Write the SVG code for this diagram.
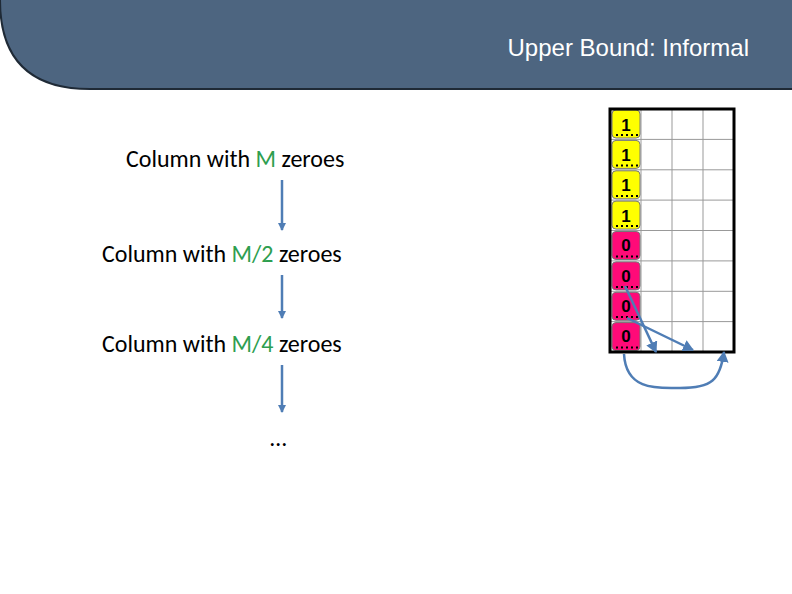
<svg xmlns="http://www.w3.org/2000/svg" width="792" height="594" viewBox="0 0 792 594">
<style>
.t{font-family:Calibri,"Carlito","Liberation Sans",sans-serif;font-size:24px;fill:#000}
.g{fill:#2e9e4f}
.c{font-family:"Liberation Sans",Arial,sans-serif;font-size:17px;font-weight:bold;fill:#000;text-anchor:middle}
.y{fill:#ffff00;stroke:#777;stroke-width:1}
.p{fill:#ff0a78;stroke:#777;stroke-width:1}
.gl{stroke:#999;stroke-width:1}
.a{stroke:#4f7db5;stroke-width:2.5;fill:none}
.d{stroke:#000;stroke-width:2;stroke-dasharray:2 3}
</style>
<defs>
<marker id="ar" markerWidth="8" markerHeight="8" refX="7" refY="4" orient="auto" markerUnits="userSpaceOnUse"><path d="M0,0 L8,4 L0,8 z" fill="#4f7db5"/></marker>
<marker id="ar2" markerWidth="12" markerHeight="12" refX="10" refY="6" orient="auto" markerUnits="userSpaceOnUse"><path d="M0,0 L11,6 L0,12 z" fill="#4f7db5"/></marker>
</defs>
<g id="header">
<path d="M0,0 H792 V89 H90 Q0,89 0,0 Z" fill="#4d6580"/>
<path d="M0,0 Q0,89 90,89 H792" fill="none" stroke="#1f2a36" stroke-width="2"/>
<text x="749" y="56" font-family="'Liberation Sans',Arial,sans-serif" font-size="24" fill="#fff" text-anchor="end">Upper Bound: Informal</text>
</g>
<g id="n1"><text class="t" x="126" y="167">Column with <tspan class="g">M</tspan> zeroes</text></g>
<g id="n2"><text class="t" x="102" y="262">Column with <tspan class="g">M/2</tspan> zeroes</text></g>
<g id="n3"><text class="t" x="102" y="352">Column with <tspan class="g">M/4</tspan> zeroes</text></g>
<g id="n4"><text class="t" x="270" y="446">…</text></g>
<g id="grid">
<rect x="610" y="109" width="124" height="243" fill="#fff"/>
<path class="gl" d="M641,109V352M672,109V352M703,109V352M610,139.4H734M610,169.8H734M610,200.1H734M610,230.5H734M610,260.9H734M610,291.3H734M610,321.6H734"/>
<g>
<rect class="y" x="612" y="110" width="28" height="28" rx="4"/>
<rect class="y" x="612" y="140.4" width="28" height="28" rx="4"/>
<rect class="y" x="612" y="170.8" width="28" height="28" rx="4"/>
<rect class="y" x="612" y="201.1" width="28" height="28" rx="4"/>
<rect class="p" x="612" y="231.5" width="28" height="28" rx="4"/>
<rect class="p" x="612" y="261.9" width="28" height="28" rx="4"/>
<rect class="p" x="612" y="292.3" width="28" height="28" rx="4"/>
<rect class="p" x="612" y="322.6" width="28" height="28" rx="4"/>
</g>
<g>
<text class="c" x="626" y="131">1</text><text class="c" x="626" y="161">1</text><text class="c" x="626" y="191">1</text><text class="c" x="626" y="222">1</text>
<text class="c" x="626" y="251">0</text><text class="c" x="626" y="282">0</text><text class="c" x="626" y="312">0</text><text class="c" x="626" y="342">0</text>
</g>
<path class="d" d="M616,135H638M616,165.5H638M616,196H638M616,226H638M616,256.5H638M616,287H638M616,317H638M616,347.5H638"/>
<rect x="610" y="109" width="124" height="243" fill="none" stroke="#000" stroke-width="3"/>
</g>
<g id="connectors">
<line class="a" x1="282" y1="180" x2="282" y2="230" marker-end="url(#ar)"/>
<line class="a" x1="282" y1="275" x2="282" y2="318" marker-end="url(#ar)"/>
<line class="a" x1="282" y1="365" x2="282" y2="412" marker-end="url(#ar)"/>
<line class="a" x1="625" y1="286" x2="656" y2="352" marker-end="url(#ar2)"/>
<line class="a" x1="627" y1="318" x2="693" y2="350" marker-end="url(#ar2)"/>
<path class="a" d="M624,354 C626,392 660,388 680,388 C712,388 720,380 724,352" marker-end="url(#ar2)"/>
</g>
</svg>
